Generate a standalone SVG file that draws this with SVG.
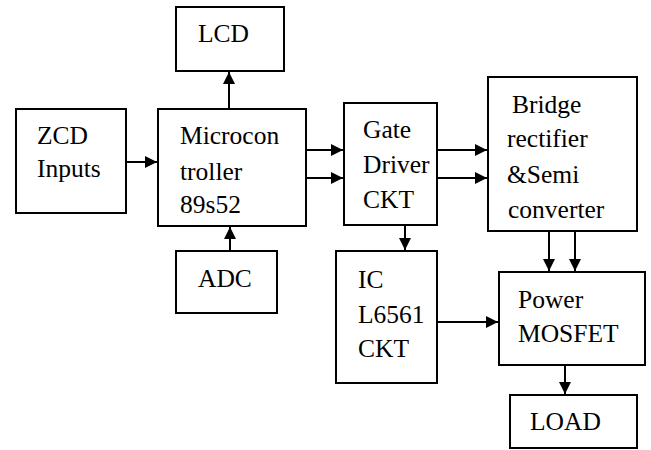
<svg xmlns="http://www.w3.org/2000/svg" width="651" height="450" viewBox="0 0 651 450">
<style>
.box{fill:#fff;stroke:#000;stroke-width:2}
text{font-family:'Liberation Serif','Times New Roman',Times,'DejaVu Serif',serif;font-size:25.5px;fill:#000}
.c{stroke:#000;stroke-width:2;fill:none;marker-end:url(#ah)}
</style>
<defs>
<marker id="ah" viewBox="0 0 10 10" refX="10" refY="5" markerWidth="6" markerHeight="6" orient="auto" markerUnits="strokeWidth">
<path d="M0,0 L10,5 L0,10 Z" fill="#000"/>
</marker>
</defs>
<rect width="651" height="450" fill="#fff"/>
<g id="connectors">
<line class="c" x1="229" y1="109" x2="229" y2="72"/>
<line class="c" x1="126" y1="162" x2="157" y2="162"/>
<line class="c" x1="230" y1="251" x2="230" y2="227"/>
<line class="c" x1="306" y1="150" x2="343" y2="150"/>
<line class="c" x1="306" y1="178" x2="343" y2="178"/>
<line class="c" x1="437" y1="150" x2="487" y2="150"/>
<line class="c" x1="437" y1="178" x2="487" y2="178"/>
<line class="c" x1="405" y1="225" x2="405" y2="250"/>
<line class="c" x1="549" y1="231" x2="549" y2="271"/>
<line class="c" x1="575" y1="231" x2="575" y2="271"/>
<line class="c" x1="437" y1="322" x2="498" y2="322"/>
<line class="c" x1="565" y1="365" x2="565" y2="394"/>
</g>
<g id="lcd"><rect class="box" x="176" y="7" width="108" height="64"/><text x="198" y="42">LCD</text></g>
<g id="zcd"><rect class="box" x="16" y="109" width="110" height="104"/><text x="37" y="144">ZCD</text><text x="37" y="177">Inputs</text></g>
<g id="micro"><rect class="box" x="158" y="109" width="148" height="117"/><text x="180" y="144">Microcon</text><text x="180" y="180">troller</text><text x="180" y="213">89s52</text></g>
<g id="adc"><rect class="box" x="176" y="251" width="101" height="62"/><text x="198" y="287">ADC</text></g>
<g id="gate"><rect class="box" x="344" y="103" width="93" height="122"/><text x="363" y="138">Gate</text><text x="363" y="173">Driver</text><text x="363" y="208">CKT</text></g>
<g id="ic"><rect class="box" x="336" y="251" width="101" height="132"/><text x="358" y="288">IC</text><text x="358" y="323">L6561</text><text x="358" y="357">CKT</text></g>
<g id="bridge"><rect class="box" x="488" y="77" width="149" height="154"/><text x="512" y="113">Bridge</text><text x="507" y="147">rectifier</text><text x="507" y="183">&amp;Semi</text><text x="508" y="218">converter</text></g>
<g id="power"><rect class="box" x="499" y="272" width="146" height="93"/><text x="518" y="308">Power</text><text x="518" y="342">MOSFET</text></g>
<g id="load"><rect class="box" x="510" y="395" width="127" height="53"/><text x="530" y="430">LOAD</text></g>
</svg>
